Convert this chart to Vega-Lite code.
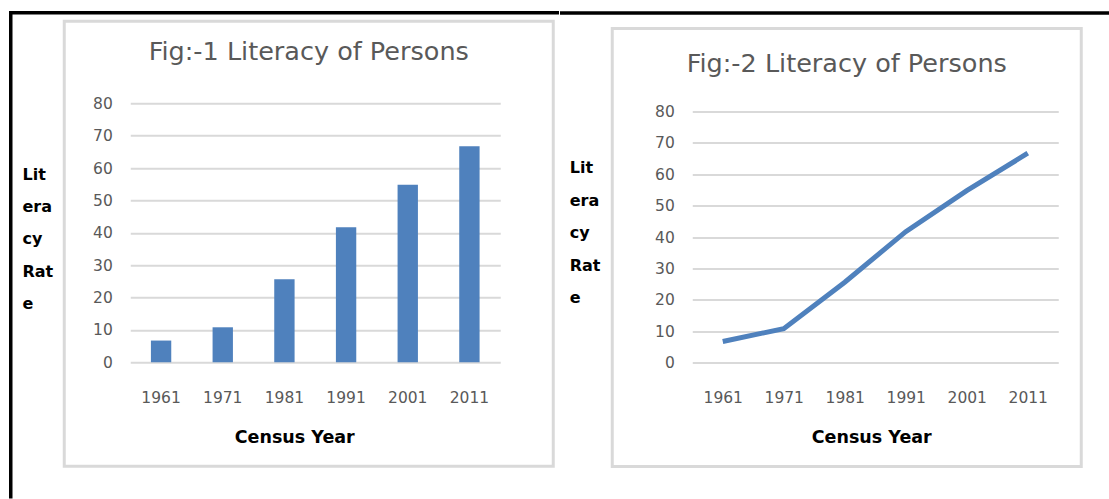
{
  "$schema": "https://vega.github.io/schema/vega-lite/v6.json",
  "padding": {"left": 8.25, "top": 10.25, "right": 0, "bottom": 0},
  "background": "white",
  "spacing": -60,
  "config": {
    "view": {"stroke": "#d9d9d9", "strokeWidth": 3},
    "font": "DejaVu Sans"
  },
  "datasets": {
    "lit": [
      {"Year": "1961", "Rate": 6.7},
      {"Year": "1971", "Rate": 10.8},
      {"Year": "1981", "Rate": 25.6},
      {"Year": "1991", "Rate": 41.7},
      {"Year": "2001", "Rate": 54.8},
      {"Year": "2011", "Rate": 66.7}
    ]
  },
  "hconcat": [
    {
      "width": 489,
      "height": 445,
      "data": {"name": "lit"},
      "title": {"text": "Fig:-1 Literacy of Persons", "frame": "group", "anchor": "middle", "offset": -73.5, "baseline": "alphabetic", "font": "DejaVu Sans", "fontSize": 25.5, "fontWeight": "normal", "color": "#595959"},
      "layer": [
        {
          "mark": {"type": "bar", "color": "#4f81bd"},
          "encoding": {
            "x": {
              "field": "Year", "type": "nominal",
              "scale": {"range": [66, 436], "paddingInner": 0.67, "paddingOuter": 0.335},
              "axis": {"orient": "bottom", "offset": -104, "domain": false, "ticks": false, "tickSize": 0, "labelPadding": 28.5, "labelAngle": 0, "labelFont": "DejaVu Sans", "labelFontSize": 15.5, "labelColor": "#595959", "grid": false,
                       "title": "Census Year", "titleX": 230, "titleY": 80, "titleAlign": "center", "titleBaseline": "alphabetic", "titleFont": "DejaVu Sans", "titleFontSize": 17.5, "titleFontWeight": "bold", "titleColor": "#000000"}
            },
            "y": {
              "field": "Rate", "type": "quantitative",
              "scale": {"domain": [0, 80], "range": [341, 82], "nice": false},
              "axis": {"orient": "left", "offset": -66, "values": [0, 10, 20, 30, 40, 50, 60, 70, 80], "domain": false, "ticks": false, "tickSize": 0, "labelPadding": 18, "labelFont": "DejaVu Sans", "labelFontSize": 15.5, "labelColor": "#595959",
                       "grid": true, "gridColor": "#d9d9d9", "gridWidth": 2,
                       "title": ["Lit", "era", "cy", "Rat", "e"], "titleAngle": 0, "titleAlign": "left", "titleBaseline": "alphabetic", "titleX": -108.3, "titleY": 158, "titleLineHeight": 32.3, "titleFont": "DejaVu Sans", "titleFontSize": 16, "titleFontWeight": "bold", "titleColor": "#000000"}
            }
          }
        },
        {
          "mark": {"type": "point", "opacity": 0},
          "encoding": {
            "x": {
              "field": "Rate", "type": "quantitative",
              "scale": {"domain": [0, 100], "range": [-54, 492.5], "nice": false, "zero": false},
              "axis": {"orient": "top", "offset": 9, "domain": true, "domainColor": "#000000", "domainWidth": 3.5, "domainCap": "square", "labels": false, "ticks": false, "grid": false, "title": null}
            },
            "y": {
              "field": "Rate", "type": "quantitative",
              "scale": {"domain": [0, 100], "range": [475, -9], "nice": false, "zero": false},
              "axis": {"orient": "left", "offset": 54, "domain": true, "domainColor": "#000000", "domainWidth": 3.5, "domainCap": "square", "labels": false, "ticks": false, "grid": false, "title": null}
            }
          }
        }
      ],
      "resolve": {"scale": {"x": "independent", "y": "independent"}, "axis": {"x": "independent", "y": "independent"}}
    },
    {
      "spacing": -11.75,
      "vconcat": [
        {
          "width": 469,
          "height": 1,
          "data": {"values": []},
          "mark": "point",
          "view": {"stroke": null, "fill": "#ffffff"}
        },
        {
          "width": 469,
          "height": 438,
          "data": {"name": "lit"},
          "title": {"text": "Fig:-2 Literacy of Persons", "frame": "group", "anchor": "middle", "offset": -85, "baseline": "alphabetic", "font": "DejaVu Sans", "fontSize": 25.5, "fontWeight": "normal", "color": "#595959"},
          "layer": [
            {
              "mark": {"type": "line", "color": "#4f81bd", "strokeWidth": 5},
              "encoding": {
                "x": {
                  "field": "Year", "type": "ordinal",
                  "scale": {"type": "point", "range": [80, 446], "padding": 0.5},
                  "axis": {"orient": "bottom", "offset": -104, "domain": false, "ticks": false, "tickSize": 0, "labelPadding": 27.5, "labelAngle": 0, "labelFont": "DejaVu Sans", "labelFontSize": 15.5, "labelColor": "#595959", "grid": false,
                           "title": "Census Year", "titleX": 259, "titleY": 80, "titleAlign": "center", "titleBaseline": "alphabetic", "titleFont": "DejaVu Sans", "titleFontSize": 17.5, "titleFontWeight": "bold", "titleColor": "#000000"}
                },
                "y": {
                  "field": "Rate", "type": "quantitative",
                  "scale": {"domain": [0, 80], "range": [334, 83], "nice": false},
                  "axis": {"orient": "left", "offset": -80, "values": [0, 10, 20, 30, 40, 50, 60, 70, 80], "domain": false, "ticks": false, "tickSize": 0, "labelPadding": 18, "labelFont": "DejaVu Sans", "labelFontSize": 15.5, "labelColor": "#595959",
                           "grid": true, "gridColor": "#d9d9d9", "gridWidth": 2,
                           "title": ["Lit", "era", "cy", "Rat", "e"], "titleAngle": 0, "titleAlign": "left", "titleBaseline": "alphabetic", "titleX": -123, "titleY": 144, "titleLineHeight": 32.5, "titleFont": "DejaVu Sans", "titleFontSize": 16, "titleFontWeight": "bold", "titleColor": "#000000"}
                }
              }
            },
            {
              "mark": {"type": "point", "opacity": 0},
              "encoding": {
                "x": {
                  "field": "Rate", "type": "quantitative",
                  "scale": {"domain": [0, 100], "range": [-51, 495], "nice": false, "zero": false},
                  "axis": {"orient": "top", "offset": 16, "domain": true, "domainColor": "#000000", "domainWidth": 3.5, "domainCap": "square", "labels": false, "ticks": false, "grid": false, "title": null}
                }
              }
            }
          ],
          "resolve": {"scale": {"x": "independent"}, "axis": {"x": "independent"}}
        }
      ]
    }
  ]
}
